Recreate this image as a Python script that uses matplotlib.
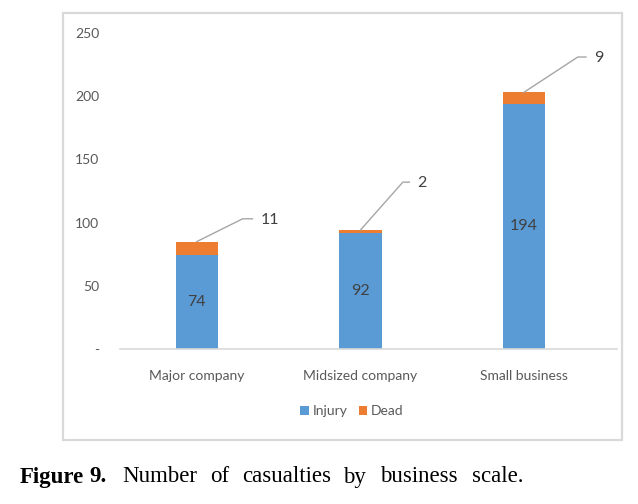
import matplotlib
matplotlib.use("Agg")
import matplotlib.pyplot as plt
from matplotlib.patches import Rectangle
from matplotlib.lines import Line2D

categories = ["Major company", "Midsized company", "Small business"]
injury = [74, 92, 194]
dead = [11, 2, 9]
yticks = [0, 50, 100, 150, 200, 250]
ytick_labels = ["-", "50", "100", "150", "200", "250"]
# callout layout for the "Dead" labels (offsets from bar centre, data y)
callout_elbow = [0.28, 0.26, 0.33]
callout_end = [0.34, 0.30, 0.38]
callout_y = [103, 132, 231]

BLUE = "#5B9BD5"
ORANGE = "#ED7D31"
GREY_TXT = "#595959"

plt.rcParams['font.family'] = ['Lato', 'DejaVu Sans']

fig = plt.figure(figsize=(6.38, 5.04), dpi=100)

# outer frame
fig.patches.append(Rectangle((63/638, 1-440/504), (622-63)/638, (440-13)/504,
                             transform=fig.transFigure, fill=False,
                             edgecolor="#D9D9D9", linewidth=1.6))

ax = fig.add_axes([120/638, 1-349/504, (617-120)/638, (349-33)/504])
x = list(range(len(categories)))
w = 0.26
ax.bar(x, injury, width=w, color=BLUE, label="Injury", zorder=2)
ax.bar(x, dead, width=w, bottom=injury, color=ORANGE, label="Dead", zorder=2)

ax.set_xlim(-0.47, 2.57)
ax.set_ylim(0, 250)
ax.set_yticks(yticks)
ax.set_yticklabels(ytick_labels, color=GREY_TXT, fontsize=10)
ax.set_xticks(x)
ax.set_xticklabels(categories, color=GREY_TXT, fontsize=10)
ax.tick_params(axis='both', length=0)
ax.tick_params(axis='y', pad=15)
ax.tick_params(axis='x', pad=15)
for s in ["top", "right", "left"]:
    ax.spines[s].set_visible(False)
ax.spines["bottom"].set_color("#D9D9D9")
ax.spines["bottom"].set_linewidth(1.2)

for i in x:
    ax.text(i, injury[i] / 2, str(injury[i]), ha="center", va="center",
            fontsize=11.5, color="#404040", zorder=3)
    top = injury[i] + dead[i]
    ax.add_line(Line2D([i, i + callout_elbow[i], i + callout_end[i]],
                       [top, callout_y[i], callout_y[i]],
                       color="#A6A6A6", linewidth=1, zorder=3, clip_on=False))
    ax.text(i + callout_end[i] + 0.05, callout_y[i] - 1, str(dead[i]), ha="left", va="center",
            fontsize=11.5, color="#404040")

leg = fig.legend(loc="center", bbox_to_anchor=(352/638, 1-411/504), ncol=2, frameon=False,
                 fontsize=10, handlelength=0.6, handleheight=0.6, handletextpad=0.3,
                 columnspacing=0.8)
for t in leg.get_texts():
    t.set_color(GREY_TXT)

# caption
cap_y = 1 - 477/504
serif = ['Liberation Serif', 'DejaVu Serif']
fs = 16.5
fig.text(20/638, cap_y, "Figure", fontsize=fs, fontweight="bold", family=serif,
         ha="left", va="center")
fig.text(89/638, cap_y, "9.", fontsize=fs, fontweight="bold", family=serif,
         ha="left", va="center")
words = ["Number", "of", "casualties", "by", "business", "scale."]
wx = [122, 210, 242, 343, 380, 472]
for wd, px in zip(words, wx):
    fig.text(px/638, cap_y, wd, fontsize=fs, family=serif, ha="left", va="center")

fig.savefig("out.png", dpi=100)
